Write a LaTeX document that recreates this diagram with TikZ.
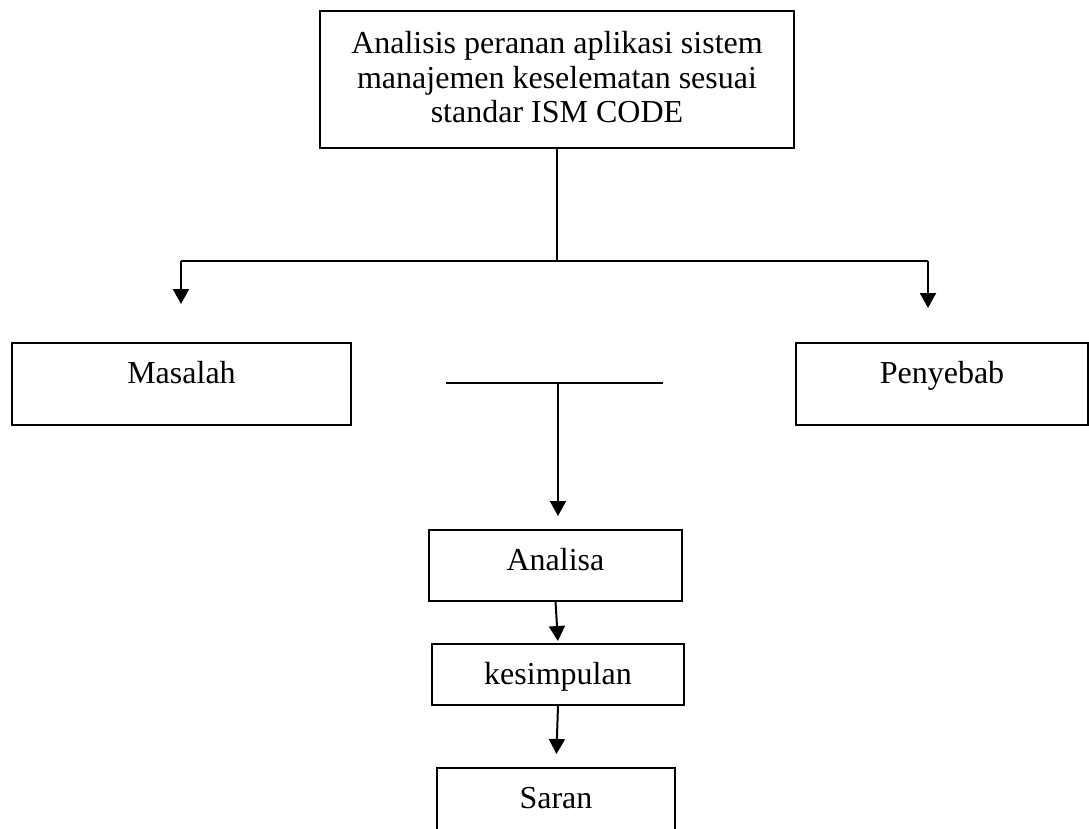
\documentclass[tikz,border=0pt]{standalone}
\usepackage{fontspec}
\setmainfont{Liberation Serif}
\usetikzlibrary{arrows.meta}
\tikzset{%
  flow box/.style={draw, line width=2pt, align=center, inner sep=0pt,
    anchor=north, text height=40.5pt,
    font=\fontsize{32}{34.5}\selectfont},
  flow line/.style={line width=2pt},
  flow arrow/.style={flow line, -{Triangle[width=16pt,length=15pt]}},
}

\begin{document}
\begin{tikzpicture}[x=1pt,y=-1pt]
  \useasboundingbox (0,0) rectangle (1089,829);
  % boxes
  \node [flow box, minimum width=474pt, text height=112pt, text depth=25pt]
    (judul) at (557,10) {Analisis peranan aplikasi sistem\\
      manajemen keselematan sesuai\\ standar ISM CODE};
  \node [flow box, minimum width=339pt, text depth=41pt] (masalah) at (181.5,342) {Masalah};
  \node [flow box, minimum width=292pt, text depth=41pt] (penyebab) at (942,342) {Penyebab};
  \node [flow box, minimum width=253pt, text depth=30pt] (analisa) at (555.5,529) {Analisa};
  \node [flow box, minimum width=252pt, text depth=20pt] (kesimpulan) at (558,643) {kesimpulan};
  \node [flow box, minimum width=238pt, text depth=27pt] (saran) at (556,767) {Saran};
  % branch lines
  \coordinate (cabang) at (557,261);
  \coordinate (kiri) at (181,261);
  \coordinate (kanan) at (928,261);
  \coordinate (garisL) at (446,383);
  \coordinate (garisR) at (663,383);
  \coordinate (garisM) at (558,383);
  \draw [flow line] (judul.south) -- (cabang);
  \draw [flow line] (kiri) -- (kanan);
  \draw [flow line] (garisL) -- (garisR);
  % arrows
  \draw [flow arrow, shorten >=38pt] (kiri) -- (kiri |- masalah.north);
  \draw [flow arrow, shorten >=34pt] (kanan) -- (kanan |- penyebab.north);
  \draw [flow arrow, shorten >=13pt] (garisM) -- (garisM |- analisa.north);
  \draw [flow arrow, shorten >=2pt] (analisa.south) -- (kesimpulan.north);
  \draw [flow arrow, shorten >=13pt] (kesimpulan.south) -- (saran.north);
\end{tikzpicture}
\end{document}
